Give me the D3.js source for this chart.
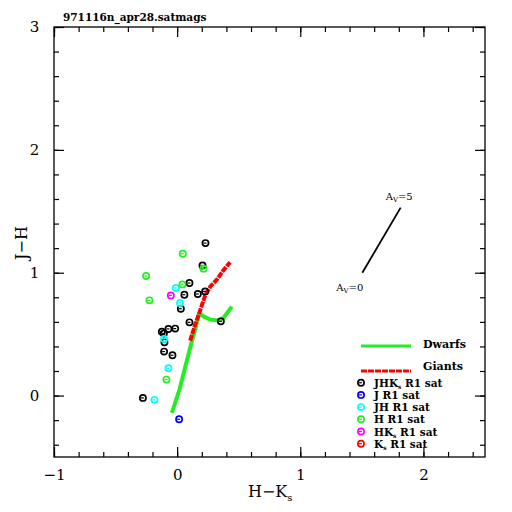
<!DOCTYPE html>
<html><head><meta charset="utf-8">
<script src="https://cdn.jsdelivr.net/npm/d3@7"></script>
<style>body{margin:0;background:#fff}svg{display:block}</style>
</head><body>
<script>
// ---- data ----
const xMajorTicks = [-1, 0, 1, 2];
const yMajorTicks = [0, 1, 2, 3];
const dwarfsHK = [-0.043, 0.019, 0.071, 0.119, 0.146, 0.181, 0.213, 0.268, 0.335, 0.376, 0.444];
const dwarfsJH = [-0.141, 0.049, 0.252, 0.441, 0.537, 0.672, 0.645, 0.618, 0.612, 0.632, 0.724];
const giantsHK = [0.106, 0.146, 0.181, 0.227, 0.268, 0.322, 0.373, 0.43];
const giantsJH = [0.447, 0.577, 0.675, 0.813, 0.886, 0.943, 1.016, 1.085];
const reddeningHK = [1.504, 1.815];
const reddeningJH = [1.0, 1.53];
const satJHKs = [[0.23,1.241],[0.206,1.059],[0.1,0.916],[0.059,0.821],[0.168,0.827],[0.227,0.848],[0.03,0.707],[0.1,0.596],[0.355,0.604],[-0.071,0.542],[-0.016,0.545],[-0.124,0.52],[-0.108,0.505],[-0.103,0.433],[-0.106,0.358],[-0.038,0.328],[-0.278,-0.019]];
const satJ = [[0.016,-0.193]];
const satJH = [[-0.011,0.876],[0.024,0.754],[-0.106,0.461],[-0.071,0.222],[-0.184,-0.035]];
const satH = [[0.046,1.154],[0.214,1.033],[-0.252,0.973],[0.043,0.905],[-0.225,0.775],[-0.087,0.130]];
const satHKs = [[-0.051,0.815]];
const satKs = [];
const legendLabels = [["JHK","s"," R1 sat"],["J R1 sat","",""],["JH R1 sat","",""],["H R1 sat","",""],["HK","s"," R1 sat"],["K","s"," R1 sat"]];
const legendColors = ["#000000","#0000ff","#00ffff","#22ee22","#ff00ff","#ff0000"];
const pointSets = [satJHKs, satJ, satJH, satH, satHKs, satKs];

// ---- chart ----
const W = 512, H = 512;
const svg = d3.select("body").append("svg").attr("width", W).attr("height", H);
const x = d3.scaleLinear().domain([-1, 2.5]).range([54, 485]);
const y = d3.scaleLinear().domain([-0.5, 3]).range([457, 27]);
const serif = "'DejaVu Serif', 'Liberation Serif', serif";

const xMinor = d3.range(-1, 2.5001, 0.2).map(v => +v.toFixed(2));
const yMinor = d3.range(-0.4, 3.0001, 0.2).map(v => +v.toFixed(2));

function axisG(axis, tx, ty) {
  const g = svg.append("g").attr("transform", `translate(${tx},${ty})`).call(axis);
  g.select(".domain").remove();
  g.selectAll("line").attr("stroke", "#000").attr("stroke-width", 1.2);
  return g;
}
// minor
axisG(d3.axisBottom(x).tickValues(xMinor).tickSize(-5).tickFormat(""), 0, 457);
axisG(d3.axisTop(x).tickValues(xMinor).tickSize(-5).tickFormat(""), 0, 27);
axisG(d3.axisLeft(y).tickValues(yMinor).tickSize(-5).tickFormat(""), 54, 0);
axisG(d3.axisRight(y).tickValues(yMinor).tickSize(-5).tickFormat(""), 485, 0);
// major
const xb = axisG(d3.axisBottom(x).tickValues(xMajorTicks).tickSize(-10).tickPadding(20).tickFormat(d => d < 0 ? "\u2212" + Math.abs(d) : d), 0, 457);
axisG(d3.axisTop(x).tickValues(xMajorTicks).tickSize(-10).tickFormat(""), 0, 27);
const yl = axisG(d3.axisLeft(y).tickValues(yMajorTicks).tickSize(-10).tickPadding(24).tickFormat(d => d), 54, 0);
axisG(d3.axisRight(y).tickValues(yMajorTicks).tickSize(-10).tickFormat(""), 485, 0);
xb.selectAll("text").attr("font-family", serif).attr("font-size", 15).attr("fill", "#000").attr("dy", "0.2em");
yl.selectAll("text").attr("font-family", serif).attr("font-size", 15).attr("fill", "#000").attr("text-anchor", "middle").attr("dx", "0.3em");

svg.append("rect").attr("x", 54).attr("y", 27).attr("width", 431).attr("height", 430)
  .attr("fill", "none").attr("stroke", "#000").attr("stroke-width", 1.3);

// title
svg.append("text").attr("x", 63).attr("y", 21).attr("font-family", serif).attr("font-weight", "bold")
  .attr("font-size", 10.5).text("971116n_apr28.satmags");

// axis titles
const xt = svg.append("text").attr("x", 248).attr("y", 497).attr("font-family", serif).attr("font-size", 16);
xt.append("tspan").text("H\u2212K");
xt.append("tspan").attr("font-size", 10).attr("dy", 4).text("s");
svg.append("text").attr("transform", "translate(27,243) rotate(-90)").attr("text-anchor", "middle")
  .attr("font-family", serif).attr("font-size", 16).text("J\u2212H");

// lines
const line = d3.line().x(d => x(d[0])).y(d => y(d[1]));
svg.append("path").datum(dwarfsHK.map((v, i) => [v, dwarfsJH[i]])).attr("d", line)
  .attr("fill", "none").attr("stroke", "#22ee22").attr("stroke-width", 4);
svg.append("path").datum(giantsHK.map((v, i) => [v, giantsJH[i]])).attr("d", line)
  .attr("fill", "none").attr("stroke", "#ff0000").attr("stroke-width", 4).attr("stroke-dasharray", "6,1");
svg.append("path").datum(reddeningHK.map((v, i) => [v, reddeningJH[i]])).attr("d", line)
  .attr("fill", "none").attr("stroke", "#000").attr("stroke-width", 1.8);

function avLabel(px, py, val) {
  const t = svg.append("text").attr("x", px).attr("y", py).attr("font-family", serif).attr("font-size", 10);
  t.append("tspan").text("A");
  t.append("tspan").attr("font-size", 7).attr("dy", 2).text("V");
  t.append("tspan").attr("dy", -2).text("=" + val);
}
avLabel(x(reddeningHK[1]) - 15, y(reddeningJH[1]) - 8, 5);
avLabel(x(reddeningHK[0]) - 26, y(reddeningJH[0]) + 18, 0);

// markers
function marker(g, cx, cy, color) {
  g.append("circle").attr("cx", cx).attr("cy", cy).attr("r", 3.1)
    .attr("fill", "none").attr("stroke", color).attr("stroke-width", 1.7);
  g.append("line").attr("x1", cx - 2).attr("x2", cx + 1).attr("y1", cy).attr("y2", cy)
    .attr("stroke", color).attr("stroke-width", 1.2);
}
const pg = svg.append("g");
pointSets.forEach((set, i) => set.forEach(d => marker(pg, x(d[0]), y(d[1]), legendColors[i])));

// legend
const lg = svg.append("g");
lg.append("line").attr("x1", 361).attr("x2", 411).attr("y1", 346).attr("y2", 346).attr("stroke", "#22ee22").attr("stroke-width", 3);
lg.append("text").attr("x", 423).attr("y", 348).attr("font-family", serif).attr("font-weight", "bold").attr("font-size", 11).text("Dwarfs");
lg.append("line").attr("x1", 361).attr("x2", 411).attr("y1", 371).attr("y2", 371).attr("stroke", "#ff0000").attr("stroke-width", 3).attr("stroke-dasharray", "6,1");
lg.append("text").attr("x", 423).attr("y", 370).attr("font-family", serif).attr("font-weight", "bold").attr("font-size", 11).text("Giants");
legendLabels.forEach((lab, i) => {
  const yy = 382.7 + i * 12.2;
  marker(lg, 361, yy, legendColors[i]);
  const t = lg.append("text").attr("x", 374).attr("y", yy + 4).attr("font-family", serif).attr("font-weight", "bold").attr("font-size", 10.5);
  t.append("tspan").text(lab[0]);
  if (lab[1]) {
    t.append("tspan").attr("font-size", 6).attr("dy", 2).text(lab[1]);
    t.append("tspan").attr("dy", -2).text(lab[2]);
  }
});
</script>
</body></html>
